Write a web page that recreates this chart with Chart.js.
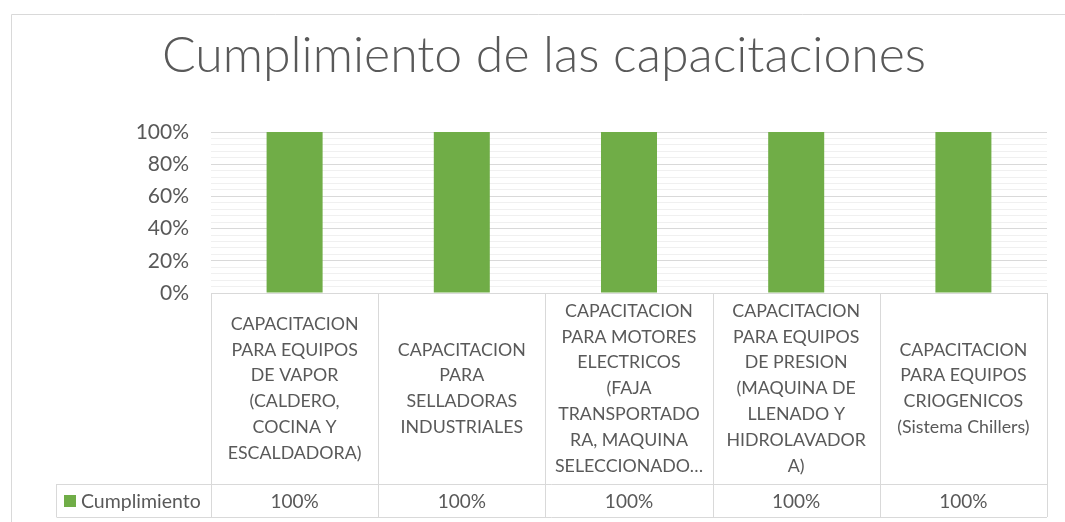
<!DOCTYPE html>
<html>
<head>
<meta charset="utf-8">
<script src="https://cdn.jsdelivr.net/npm/chart.js@4"></script>
<style>
  html, body { margin: 0; padding: 0; background: #fff; }
  canvas { display: block; }
</style>
</head>
<body>
<canvas id="chart" width="1065" height="522"></canvas>
<script>
const chartTitle = 'Cumplimiento de las capacitaciones';
const seriesName = 'Cumplimiento';
// category labels, wrapped as in the data table
const categories = [
  ['CAPACITACION', 'PARA EQUIPOS', 'DE VAPOR', '(CALDERO,', 'COCINA Y', 'ESCALDADORA)'],
  ['CAPACITACION', 'PARA', 'SELLADORAS', 'INDUSTRIALES'],
  ['CAPACITACION', 'PARA MOTORES', 'ELECTRICOS', '(FAJA', 'TRANSPORTADO', 'RA, MAQUINA', 'SELECCIONADO\u2026'],
  ['CAPACITACION', 'PARA EQUIPOS', 'DE PRESION', '(MAQUINA DE', 'LLENADO Y', 'HIDROLAVADOR', 'A)'],
  ['CAPACITACION', 'PARA EQUIPOS', 'CRIOGENICOS', '(Sistema Chillers)']
];
const values = [1, 1, 1, 1, 1];
const yMax = 1;
const yStep = 0.04;       // minor gridlines
const yLabelEvery = 0.2;  // labelled / major gridlines

const FONT = 'Lato, "Open Sans", sans-serif';
const TEXT = '#595959';
const LINE = '#d9d9d9';
const GREEN = '#70ad47';

const pct = v => Math.round(v * 100) + '%';
const isMajor = v => Math.round(v * 100) % Math.round(yLabelEvery * 100) === 0;

// title, frame and data table are drawn around the chart area
const tablePlugin = {
  id: 'dataTable',
  beforeDraw(chart) {
    const c = chart.ctx;
    c.save();
    c.strokeStyle = LINE;
    c.lineWidth = 1;
    c.beginPath();
    c.moveTo(11.5, chart.height + 5);
    c.lineTo(11.5, 14.5);
    c.lineTo(chart.width + 5, 14.5);
    c.stroke();

    c.fillStyle = TEXT;
    c.font = '300 50px ' + FONT;
    c.textAlign = 'center';
    c.textBaseline = 'alphabetic';
    c.fillText(chartTitle, 544, 72);
    c.restore();
  },
  afterDraw(chart) {
    const c = chart.ctx;
    const area = chart.chartArea;
    const n = categories.length;
    const colW = (area.right - area.left) / n;
    const top = area.bottom;
    const rowMid = top + 191;
    const rowEnd = top + 224;
    const legendLeft = 56.5;

    c.save();
    c.strokeStyle = LINE;
    c.lineWidth = 1;
    c.beginPath();
    for (let i = 0; i <= n; i++) {
      const x = Math.round(area.left + i * colW) + 0.5;
      c.moveTo(x, top);
      c.lineTo(x, rowEnd);
    }
    c.moveTo(legendLeft, Math.round(rowMid) + 0.5);
    c.lineTo(area.right, Math.round(rowMid) + 0.5);
    c.moveTo(legendLeft, Math.round(rowEnd) + 0.5);
    c.lineTo(area.right, Math.round(rowEnd) + 0.5);
    c.moveTo(legendLeft, rowMid);
    c.lineTo(legendLeft, rowEnd);
    c.stroke();

    c.fillStyle = TEXT;
    c.textAlign = 'center';
    c.textBaseline = 'middle';
    const lh = 25.8;
    const xs = chart.scales.x;
    categories.forEach((lines, i) => {
      const cx = xs.getPixelForValue(i);
      const cy = (top + rowMid) / 2 - (lines.length - 1) * lh / 2;
      c.font = '17.8px ' + FONT;
      lines.forEach((t, k) => c.fillText(t, cx, cy + k * lh));
      c.font = '19px ' + FONT;
      c.fillText(pct(values[i]), cx, (rowMid + rowEnd) / 2 + 1);
    });

    c.fillStyle = GREEN;
    c.fillRect(64, (rowMid + rowEnd) / 2 - 5.5, 12, 12);
    c.fillStyle = TEXT;
    c.textAlign = 'left';
    c.font = '19.5px ' + FONT;
    c.fillText(seriesName, 81, (rowMid + rowEnd) / 2 + 1);
    c.restore();
  }
};

new Chart(document.getElementById('chart'), {
  type: 'bar',
  data: {
    labels: categories,
    datasets: [{
      label: seriesName,
      data: values,
      backgroundColor: GREEN,
      borderWidth: 0,
      barPercentage: 0.335,
      categoryPercentage: 1
    }]
  },
  plugins: [tablePlugin],
  options: {
    responsive: false,
    animation: false,
    layout: { padding: { left: 0, right: 18, top: 132, bottom: 229 } },
    plugins: {
      legend: { display: false },
      title: { display: false },
      tooltip: { enabled: false }
    },
    scales: {
      x: { display: false },
      y: {
        min: 0,
        max: yMax,
        afterFit: s => { s.width = 211; },
        border: { display: false },
        grid: {
          drawTicks: false,
          color: ctx => isMajor(ctx.tick.value) ? LINE : '#f0f0f0'
        },
        ticks: {
          stepSize: yStep,
          autoSkip: false,
          padding: 22,
          color: TEXT,
          font: { family: FONT, size: 21 },
          callback: v => isMajor(v) ? pct(v) : ''
        }
      }
    }
  }
});
</script>
</body>
</html>
